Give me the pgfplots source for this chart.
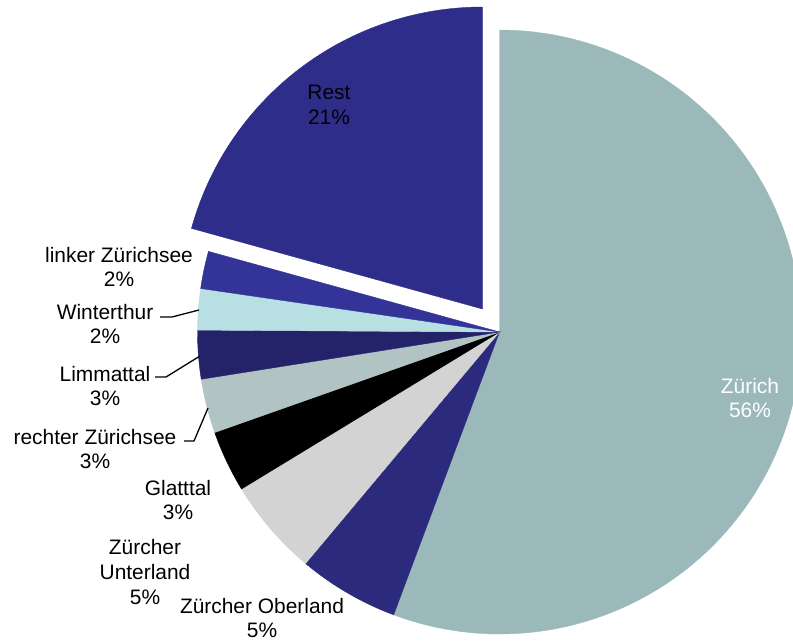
\documentclass[border=0pt]{standalone}
\usepackage{pgfplots}
\pgfplotsset{compat=1.18}
\usepackage{fontspec}
\setmainfont{Liberation Sans}
\definecolor{cZurich}{RGB}{155,185,187}
\definecolor{cOber}{RGB}{43,42,125}
\definecolor{cUnter}{RGB}{211,211,211}
\definecolor{cGlatt}{RGB}{0,0,0}
\definecolor{cRechter}{RGB}{178,195,195}
\definecolor{cLimmat}{RGB}{36,35,106}
\definecolor{cWinti}{RGB}{184,223,226}
\definecolor{cLinker}{RGB}{52,52,152}
\definecolor{cRest}{RGB}{46,45,137}
% slice: colour, cumulative start %, cumulative end %, centre x, centre y (pixels)
\newcommand\slice[5]{%
  \pgfmathsetmacro\angA{90-3.6*#3}%
  \pgfmathsetmacro\angB{90-3.6*#2}%
  \edef\doslice{\noexpand\addplot[fill=#1,draw=#1,line width=0.4bp,domain=\angA:\angB,samples=120,variable=\noexpand\t]
    ({#4+302*cos(\noexpand\t)},{#5-302*sin(\noexpand\t)}) -- (axis cs:#4,#5) -- cycle;}%
  \doslice}
\begin{document}
\begin{tikzpicture}[lbl/.style={align=center,font=\fontsize{21}{25}\selectfont,inner sep=0pt}]
\begin{axis}[scale only axis, width=793bp, height=644bp,
  xmin=0, xmax=793, ymin=0, ymax=644, y dir=reverse,
  hide axis, clip=true]
% shares in percent: Zurich 55.7, Oberland 5.4, Unterland 5.2, Glatttal 3.3,
% rechter Zurichsee 2.9, Limmattal 2.6, Winterthur 2.2, linker Zurichsee 2.0, Rest 20.7
\slice{cZurich}{0}{55.7}{499.5}{332}
\slice{cOber}{55.7}{61.1}{499.5}{332}
\slice{cUnter}{61.1}{66.3}{499.5}{332}
\slice{cGlatt}{66.3}{69.6}{499.5}{332}
\slice{cRechter}{69.6}{72.5}{499.5}{332}
\slice{cLimmat}{72.5}{75.1}{499.5}{332}
\slice{cWinti}{75.1}{77.3}{499.5}{332}
\slice{cLinker}{77.3}{79.3}{499.5}{332}
\slice{cRest}{79.3}{100}{482.5}{309}
\draw[black, line width=1.3bp] (axis cs:160,317) -- (axis cs:172,317) -- (axis cs:199,310);
\draw[black, line width=1.3bp] (axis cs:155,377) -- (axis cs:166,377) -- (axis cs:200,356);
\draw[black, line width=1.3bp] (axis cs:184,441) -- (axis cs:194,441) -- (axis cs:208,408);
\node[lbl] at (axis cs:329,105) {Rest\\21\%};
\node[lbl,text=white] at (axis cs:750,398) {Zürich\\56\%};
\node[lbl] at (axis cs:119,267) {linker Zürichsee\\2\%};
\node[lbl] at (axis cs:105,324) {Winterthur\\2\%};
\node[lbl] at (axis cs:105,386) {Limmattal\\3\%};
\node[lbl] at (axis cs:95,449) {rechter Zürichsee\\3\%};
\node[lbl] at (axis cs:178,500) {Glatttal\\3\%};
\node[lbl] at (axis cs:145,572) {Zürcher\\Unterland\\5\%};
\node[lbl] at (axis cs:262,618) {Zürcher Oberland\\5\%};
\end{axis}
\pgfresetboundingbox
\useasboundingbox (current axis.south west) rectangle (current axis.north east);
\end{tikzpicture}
\end{document}
